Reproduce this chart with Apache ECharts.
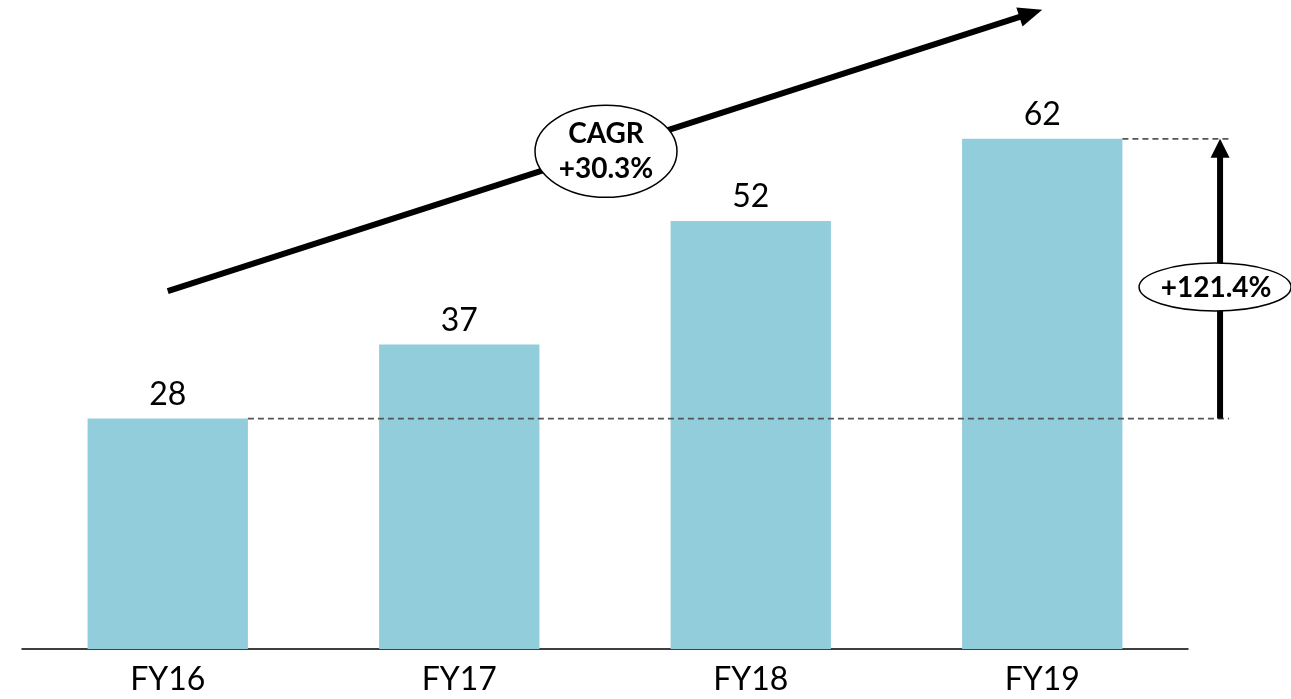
<!DOCTYPE html>
<html><head><meta charset="utf-8">
<script src="https://cdn.jsdelivr.net/npm/echarts@6/dist/echarts.min.js"></script>
<style>html,body{margin:0;padding:0;background:#fff}#c{width:1291px;height:699px}</style>
</head><body><div id="c"></div>
<script>
const categories = ['FY16', 'FY17', 'FY18', 'FY19'];
const values = [28, 37, 52, 62];
const cagrLines = ['CAGR', '+30.3%'];
const growthLabel = '+121.4%';
const cagrStartValue = 43.5;   // value level where the CAGR arrow starts (at FY16)
const cagrEndValue = 77.7;     // value level where the CAGR arrow ends (at FY19)
const growthFrom = 28;
const growthTo = 62;

const FONT = 'Lato, Carlito, "Liberation Sans", sans-serif';
const chart = echarts.init(document.getElementById('c'), null, { renderer: 'canvas' });

chart.setOption({
  animation: false,
  grid: { left: 22, right: 103, top: 73, bottom: 50, containLabel: false },
  xAxis: {
    type: 'category', data: categories,
    axisLine: { lineStyle: { color: '#000', width: 1.5 } },
    axisTick: { show: false },
    axisLabel: { color: '#000', fontSize: 32, fontFamily: FONT, margin: 15 }
  },
  yAxis: { type: 'value', min: 0, max: 70, show: false, splitLine: { show: false } },
  series: [{
    type: 'bar', data: values, barWidth: '55%',
    itemStyle: { color: '#92CDDC' },
    label: { show: true, position: 'top', distance: 8, color: '#000', fontSize: 32, fontFamily: FONT }
  }]
});

function px(cat, val) { return chart.convertToPixel({ gridIndex: 0 }, [cat, val]); }

const p0 = px(0, 0), p1 = px(1, 0);
const band = p1[0] - p0[0];
const barHalf = band * 0.55 / 2;

// CAGR arrow
const a = px(0, cagrStartValue), b = px(3, cagrEndValue);
const dx = b[0] - a[0], dy = b[1] - a[1];
const len = Math.hypot(dx, dy);
const ux = dx / len, uy = dy / len;
const headLen = 24, headHalf = 10;
const hb = [b[0] - ux * headLen, b[1] - uy * headLen];
const cagrHead = [
  [b[0], b[1]],
  [hb[0] - uy * headHalf, hb[1] + ux * headHalf],
  [hb[0] + uy * headHalf, hb[1] - ux * headHalf]
];
const mid = [(a[0] + b[0]) / 2 + 1, (a[1] + b[1]) / 2 + 1];

// growth arrow
const yFrom = px(0, growthFrom)[1], yTo = px(3, growthTo)[1];
const arrowX = px(3, 0)[0] + band * 0.61;
const dashEnd = arrowX + 9;
const fy16Right = px(0, 0)[0] + barHalf;
const fy19Right = px(3, 0)[0] + barHalf;
const ellCy = yFrom + (yTo - yFrom) * 0.47;

const gfont = 'bold 28px ' + FONT;
chart.setOption({
  graphic: [
    { type: 'line', z: 10, shape: { x1: fy16Right, y1: yFrom, x2: dashEnd, y2: yFrom }, style: { stroke: '#555', lineWidth: 1.8, lineDash: [6, 4] } },
    { type: 'line', z: 10, shape: { x1: fy19Right, y1: yTo, x2: dashEnd, y2: yTo }, style: { stroke: '#555', lineWidth: 1.8, lineDash: [6, 4] } },
    { type: 'line', z: 11, shape: { x1: arrowX, y1: yFrom, x2: arrowX, y2: yTo + 18 }, style: { stroke: '#000', lineWidth: 6 } },
    { type: 'polygon', z: 11, shape: { points: [[arrowX, yTo], [arrowX - 9.5, yTo + 19], [arrowX + 9.5, yTo + 19]] }, style: { fill: '#000' } },
    { type: 'ellipse', z: 12, shape: { cx: arrowX - 5, cy: ellCy, rx: 76, ry: 24 }, style: { fill: '#fff', stroke: '#000', lineWidth: 1.5 } },
    { type: 'text', z: 13, style: { text: growthLabel, x: arrowX - 4, y: ellCy + 1, font: gfont, fill: '#000', textAlign: 'center', textVerticalAlign: 'middle' } },

    { type: 'line', z: 11, shape: { x1: a[0], y1: a[1], x2: hb[0] + ux * 2, y2: hb[1] + uy * 2 }, style: { stroke: '#000', lineWidth: 6 } },
    { type: 'polygon', z: 11, shape: { points: cagrHead }, style: { fill: '#000' } },
    { type: 'ellipse', z: 12, shape: { cx: mid[0], cy: mid[1], rx: 71, ry: 46 }, style: { fill: '#fff', stroke: '#000', lineWidth: 1.5 } },
    { type: 'text', z: 13, style: { text: cagrLines[0], x: mid[0], y: mid[1] - 17, font: gfont, fill: '#000', textAlign: 'center', textVerticalAlign: 'middle' } },
    { type: 'text', z: 13, style: { text: cagrLines[1], x: mid[0], y: mid[1] + 18, font: gfont, fill: '#000', textAlign: 'center', textVerticalAlign: 'middle' } }
  ]
});
</script>
</body></html>
